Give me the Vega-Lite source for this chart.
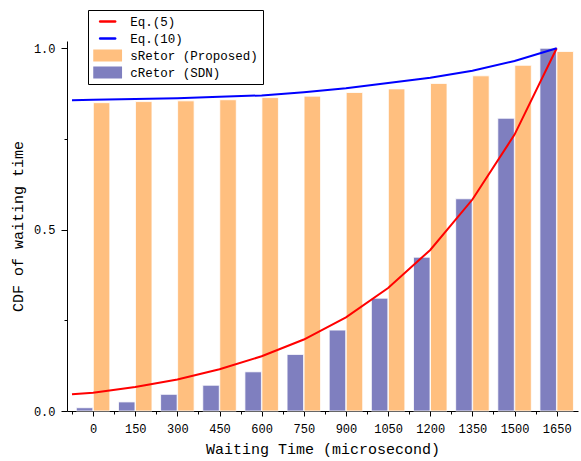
{
  "$schema": "https://vega.github.io/schema/vega-lite/v6.json",
  "width": 511,
  "height": 370,
  "autosize": {"type": "none"},
  "padding": {"left": 67, "top": 41, "right": 3, "bottom": 50},
  "config": {
    "font": "Liberation Mono",
    "view": {"stroke": null},
    "axis": {
      "domainColor": "black",
      "domainWidth": 1,
      "tickColor": "black",
      "tickWidth": 1,
      "labelColor": "black",
      "labelFont": "Liberation Mono",
      "labelFontSize": 12,
      "titleFont": "Liberation Mono",
      "titleFontSize": 15,
      "titleFontWeight": "normal",
      "titleColor": "black",
      "grid": false
    }
  },
  "data": {
    "values": [
      {"t": 0, "series": "sRetor (Proposed)", "cdf": 0.850},
      {"t": 150, "series": "sRetor (Proposed)", "cdf": 0.853},
      {"t": 300, "series": "sRetor (Proposed)", "cdf": 0.855},
      {"t": 450, "series": "sRetor (Proposed)", "cdf": 0.858},
      {"t": 600, "series": "sRetor (Proposed)", "cdf": 0.864},
      {"t": 750, "series": "sRetor (Proposed)", "cdf": 0.868},
      {"t": 900, "series": "sRetor (Proposed)", "cdf": 0.878},
      {"t": 1050, "series": "sRetor (Proposed)", "cdf": 0.888},
      {"t": 1200, "series": "sRetor (Proposed)", "cdf": 0.903},
      {"t": 1350, "series": "sRetor (Proposed)", "cdf": 0.924},
      {"t": 1500, "series": "sRetor (Proposed)", "cdf": 0.953},
      {"t": 1650, "series": "sRetor (Proposed)", "cdf": 0.991},
      {"t": 0, "series": "cRetor (SDN)", "cdf": 0.009},
      {"t": 150, "series": "cRetor (SDN)", "cdf": 0.025},
      {"t": 300, "series": "cRetor (SDN)", "cdf": 0.046},
      {"t": 450, "series": "cRetor (SDN)", "cdf": 0.071},
      {"t": 600, "series": "cRetor (SDN)", "cdf": 0.108},
      {"t": 750, "series": "cRetor (SDN)", "cdf": 0.156},
      {"t": 900, "series": "cRetor (SDN)", "cdf": 0.223},
      {"t": 1050, "series": "cRetor (SDN)", "cdf": 0.311},
      {"t": 1200, "series": "cRetor (SDN)", "cdf": 0.424},
      {"t": 1350, "series": "cRetor (SDN)", "cdf": 0.585},
      {"t": 1500, "series": "cRetor (SDN)", "cdf": 0.807},
      {"t": 1650, "series": "cRetor (SDN)", "cdf": 1.0},
      {"t": -75, "series": "Eq.(5)", "cdf": 0.046},
      {"t": 0, "series": "Eq.(5)", "cdf": 0.050},
      {"t": 150, "series": "Eq.(5)", "cdf": 0.066},
      {"t": 300, "series": "Eq.(5)", "cdf": 0.087},
      {"t": 450, "series": "Eq.(5)", "cdf": 0.115},
      {"t": 600, "series": "Eq.(5)", "cdf": 0.151},
      {"t": 750, "series": "Eq.(5)", "cdf": 0.197},
      {"t": 900, "series": "Eq.(5)", "cdf": 0.258},
      {"t": 1050, "series": "Eq.(5)", "cdf": 0.339},
      {"t": 1200, "series": "Eq.(5)", "cdf": 0.444},
      {"t": 1350, "series": "Eq.(5)", "cdf": 0.583},
      {"t": 1500, "series": "Eq.(5)", "cdf": 0.762},
      {"t": 1650, "series": "Eq.(5)", "cdf": 1.0},
      {"t": -75, "series": "Eq.(10)", "cdf": 0.857},
      {"t": 0, "series": "Eq.(10)", "cdf": 0.858},
      {"t": 150, "series": "Eq.(10)", "cdf": 0.860},
      {"t": 300, "series": "Eq.(10)", "cdf": 0.862},
      {"t": 450, "series": "Eq.(10)", "cdf": 0.866},
      {"t": 600, "series": "Eq.(10)", "cdf": 0.870},
      {"t": 750, "series": "Eq.(10)", "cdf": 0.879},
      {"t": 900, "series": "Eq.(10)", "cdf": 0.890},
      {"t": 1050, "series": "Eq.(10)", "cdf": 0.904},
      {"t": 1200, "series": "Eq.(10)", "cdf": 0.919},
      {"t": 1350, "series": "Eq.(10)", "cdf": 0.938},
      {"t": 1500, "series": "Eq.(10)", "cdf": 0.965},
      {"t": 1650, "series": "Eq.(10)", "cdf": 1.0}
    ]
  },
  "encoding": {
    "x": {
      "field": "t",
      "type": "quantitative",
      "scale": {"domain": [-75, 1708], "nice": false, "zero": false},
      "axis": {
        "title": "Waiting Time (microsecond)",
        "values": [-75, 0, 75, 150, 225, 300, 375, 450, 525, 600, 675, 750, 825, 900, 975, 1050, 1125, 1200, 1275, 1350, 1425, 1500, 1575, 1650],
        "format": "d",
        "labelExpr": "datum.value % 150 == 0 ? datum.label : ''",
        "tickSize": {"condition": {"test": "datum.value % 150 == 0", "value": 5}, "value": 3},
        "labelPadding": 7,
        "titlePadding": 7,
        "labelFlush": false,
        "labelOverlap": false
      }
    },
    "y": {
      "field": "cdf",
      "type": "quantitative",
      "scale": {"domain": [0, 1.02], "nice": false},
      "axis": {
        "title": "CDF of waiting time",
        "values": [0, 0.25, 0.5, 0.75, 1],
        "format": ".1f",
        "labelExpr": "datum.value == 0.25 || datum.value == 0.75 ? '' : datum.label",
        "tickSize": {"condition": {"test": "datum.value == 0.25 || datum.value == 0.75", "value": 3}, "value": 6},
        "labelPadding": 6,
        "titlePadding": 8,
        "labelFlush": false,
        "labelOverlap": false
      }
    },
    "color": {
      "field": "series",
      "type": "nominal",
      "scale": {
        "domain": ["Eq.(5)", "Eq.(10)", "sRetor (Proposed)", "cRetor (SDN)"],
        "range": ["#ff0000", "#0000ff", "#ffbf7f", "#7f7fbf"]
      },
      "legend": {
        "orient": "none",
        "legendX": 21,
        "legendY": -31,
        "title": null,
        "strokeColor": "black",
        "fillColor": "white",
        "padding": 5,
        "cornerRadius": 0,
        "labelFont": "Liberation Mono",
        "labelFontSize": 12.5,
        "labelColor": "black",
        "labelLimit": 300,
        "symbolSize": 144,
        "labelOffset": 24.8,
        "rowPadding": 4,
        "clipHeight": 13,
        "encode": {
          "symbols": {
            "update": {
              "shape": {"signal": "datum.value == 'Eq.(5)' || datum.value == 'Eq.(10)' ? 'M0.15,0H2.65' : 'M-1,-1H3.8V1H-1Z'"},
              "size": {"value": 144},
              "fill": {"signal": "datum.value == 'sRetor (Proposed)' ? '#ffbf7f' : datum.value == 'cRetor (SDN)' ? '#7f7fbf' : 'transparent'"},
              "stroke": {"signal": "datum.value == 'Eq.(5)' ? '#ff0000' : datum.value == 'Eq.(10)' ? '#0000ff' : 'transparent'"},
              "strokeWidth": {"signal": "datum.value == 'Eq.(5)' || datum.value == 'Eq.(10)' ? 2.5 : 0"},
              "strokeCap": {"value": "round"},
              "opacity": {"value": 1},
              "fillOpacity": {"value": 1},
              "strokeOpacity": {"value": 1}
            }
          }
        }
      }
    }
  },
  "layer": [
    {
      "transform": [{"filter": "datum.series == 'sRetor (Proposed)'"}],
      "mark": {"type": "bar", "width": 16.5, "xOffset": 8.5, "stroke": "white", "strokeWidth": 0.8, "opacity": 1}
    },
    {
      "transform": [{"filter": "datum.series == 'cRetor (SDN)'"}],
      "mark": {"type": "bar", "width": 16.5, "xOffset": -8.5, "stroke": "white", "strokeWidth": 0.8, "opacity": 1}
    },
    {
      "transform": [{"filter": "datum.series == 'Eq.(5)' || datum.series == 'Eq.(10)'"}],
      "mark": {"type": "line", "strokeWidth": 2, "interpolate": "linear"},
      "encoding": {"detail": {"field": "series"}}
    }
  ]
}
